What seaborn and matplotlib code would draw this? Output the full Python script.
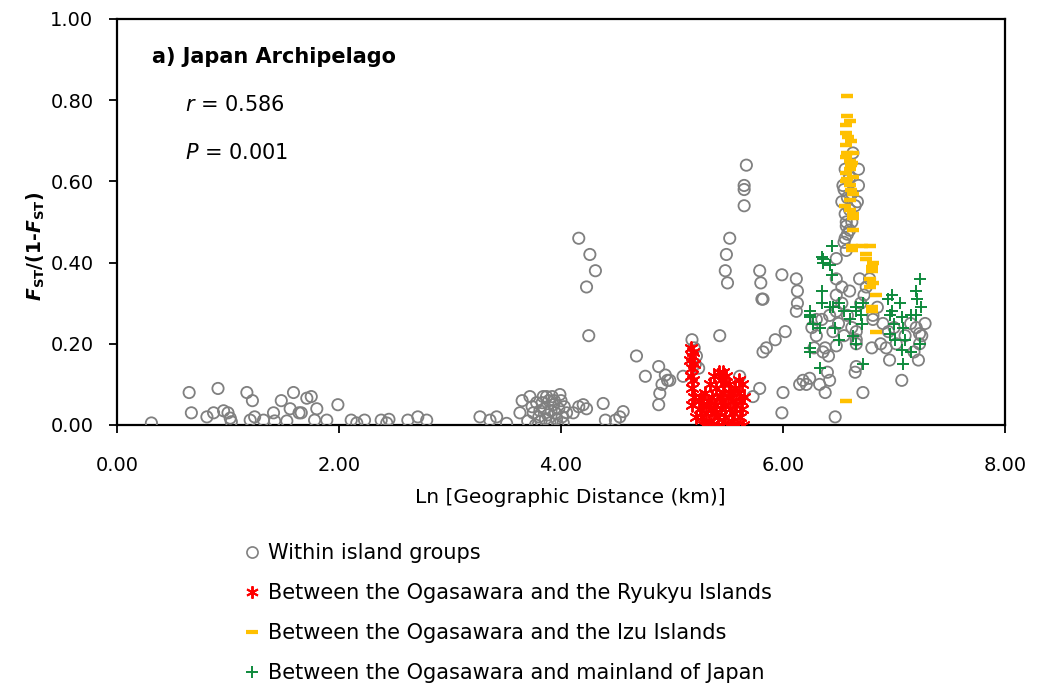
import matplotlib
matplotlib.use("Agg")
import matplotlib.pyplot as plt
from matplotlib.lines import Line2D
import seaborn as sns
import pandas as pd

# Ln geographic distance (km) vs. FST/(1-FST)
within_x = [0.31, 0.65, 0.67, 0.81, 0.87, 0.91, 0.96, 1.00, 1.02, 1.03, 1.17, 1.20, 1.22, 1.24,
            1.32, 1.41, 1.42, 1.48, 1.53, 1.56, 1.59, 1.64, 1.66, 1.71, 1.75, 1.78, 1.80, 1.89,
            1.99, 2.11, 2.16, 2.23, 2.38, 2.43, 2.45, 2.62, 2.71, 2.79,
            3.27, 3.36, 3.42, 3.51, 3.63, 3.65, 3.72, 3.75, 3.78, 3.80, 3.82, 3.84, 3.85, 3.87,
            3.88, 3.90, 3.92, 3.93, 3.95, 3.96, 3.98, 3.99, 4.00, 4.01, 4.02, 3.70, 3.74, 3.77,
            3.83, 3.86, 3.91, 3.94, 3.97, 4.03, 3.89, 3.81, 4.05, 4.11, 4.16, 4.20, 4.23, 4.38,
            4.40, 4.49, 4.53, 4.56,
            4.16, 4.26, 4.31, 4.23, 4.25, 4.68, 4.76, 4.88, 4.94, 4.96, 4.91, 4.89, 4.88, 4.98,
            5.10, 5.18, 5.20, 5.22, 5.21, 5.24,
            5.43, 5.52, 5.49, 5.48, 5.50, 5.61, 5.67, 5.65, 5.65, 5.65, 5.79, 5.73, 5.79, 5.80,
            5.81, 5.82, 5.82, 5.85, 5.93, 6.02, 5.99, 6.00, 5.99, 6.12, 6.13, 6.13, 6.12, 6.15,
            6.18, 6.24, 6.21, 6.33, 6.42, 6.38, 6.47,
            6.30, 6.38, 6.36, 6.41, 6.48, 6.48, 6.48, 6.53, 6.60, 6.48, 6.53, 6.48, 6.62, 6.69,
            6.78, 6.75, 6.81, 6.81, 6.66, 6.66, 6.66, 6.80, 6.93, 6.96, 7.07, 7.22, 7.28, 7.23,
            7.23, 6.66, 6.65, 6.72, 6.40, 6.45, 6.50, 6.55, 6.58, 6.70, 6.73, 6.85, 6.90, 6.95,
            7.00, 7.02, 7.10, 7.15, 7.20, 7.25, 7.18, 6.88, 6.28, 6.26, 6.35, 6.42, 6.30,
            6.56, 6.68, 6.54, 6.68, 6.53, 6.67, 6.56, 6.57, 6.57, 6.56, 6.63, 6.60, 6.62, 6.58,
            6.65, 6.60, 6.58, 6.55, 6.57, 6.62, 6.55, 6.60]
within_y = [0.005, 0.08, 0.03, 0.02, 0.03, 0.09, 0.035, 0.03, 0.017, 0.008, 0.08, 0.012, 0.06, 0.02,
            0.012, 0.03, 0.01, 0.06, 0.01, 0.04, 0.08, 0.03, 0.03, 0.066, 0.07, 0.012, 0.04, 0.012,
            0.05, 0.012, 0.005, 0.012, 0.012, 0.005, 0.014, 0.012, 0.02, 0.012,
            0.02, 0.012, 0.02, 0.004, 0.03, 0.06, 0.07, 0.03, 0.055, 0.02, 0.01, 0.07, 0.04, 0.07,
            0.025, 0.005, 0.07, 0.05, 0.03, 0.015, 0.04, 0.075, 0.06, 0.02, 0.005, 0.01, 0.045, 0.0,
            0.055, 0.015, 0.035, 0.06, 0.0, 0.045, 0.06, 0.035, 0.03, 0.03, 0.045, 0.05, 0.04, 0.053,
            0.012, 0.012, 0.02, 0.033,
            0.46, 0.42, 0.38, 0.34, 0.22, 0.17, 0.12, 0.144, 0.123, 0.11, 0.10, 0.078, 0.05, 0.11,
            0.12, 0.21, 0.19, 0.17, 0.15, 0.14,
            0.22, 0.46, 0.42, 0.38, 0.35, 0.12, 0.64, 0.59, 0.58, 0.54, 0.09, 0.07, 0.38, 0.35,
            0.31, 0.31, 0.18, 0.19, 0.21, 0.23, 0.37, 0.08, 0.03, 0.36, 0.33, 0.30, 0.28, 0.10,
            0.11, 0.115, 0.10, 0.10, 0.11, 0.08, 0.02,
            0.22, 0.19, 0.18, 0.17, 0.195, 0.41, 0.36, 0.34, 0.33, 0.32, 0.30, 0.28, 0.24, 0.36,
            0.36, 0.34, 0.27, 0.26, 0.23, 0.21, 0.20, 0.19, 0.19, 0.16, 0.11, 0.16, 0.25, 0.225,
            0.20, 0.144, 0.13, 0.08, 0.13, 0.23, 0.25, 0.22, 0.27, 0.30, 0.32, 0.29, 0.25, 0.23,
            0.24, 0.20, 0.22, 0.25, 0.24, 0.22, 0.18, 0.20, 0.19, 0.24, 0.26, 0.27, 0.26,
            0.63, 0.63, 0.59, 0.59, 0.55, 0.55, 0.52, 0.50, 0.49, 0.46, 0.67, 0.61, 0.57, 0.56,
            0.54, 0.53, 0.47, 0.45, 0.43, 0.50, 0.58, 0.48]

ryukyu_x = [5.17, 5.19, 5.18, 5.16, 5.20, 5.18, 5.17, 5.19, 5.18, 5.20, 5.18,
            5.25, 5.26, 5.27, 5.28, 5.29, 5.30, 5.31, 5.32, 5.33, 5.34, 5.35, 5.36, 5.37, 5.38,
            5.39, 5.40, 5.41, 5.42, 5.43, 5.44, 5.44, 5.45, 5.46, 5.46, 5.47, 5.48, 5.48, 5.49,
            5.50, 5.50, 5.51, 5.52, 5.53, 5.54, 5.55, 5.56, 5.57, 5.58, 5.59, 5.60, 5.61, 5.62,
            5.63, 5.64, 5.65, 5.63, 5.60, 5.30, 5.35, 5.41, 5.22, 5.24, 5.40, 5.45, 5.55, 5.38,
            5.33]
ryukyu_y = [0.19, 0.18, 0.17, 0.16, 0.15, 0.14, 0.12, 0.11, 0.09, 0.07, 0.05,
            0.04, 0.07, 0.02, 0.05, 0.0, 0.08, 0.03, 0.06, 0.01, 0.10, 0.04, 0.07, 0.0, 0.12,
            0.05, 0.09, 0.02, 0.13, 0.07, 0.11, 0.04, 0.0, 0.13, 0.08, 0.10, 0.05, 0.02, 0.12,
            0.07, 0.0, 0.10, 0.04, 0.08, 0.01, 0.06, 0.03, 0.09, 0.05, 0.0, 0.08, 0.02, 0.06,
            0.04, 0.0, 0.07, 0.10, 0.11, 0.0, 0.0, 0.0, 0.02, 0.06, 0.05, 0.06, 0.0, 0.03,
            0.05]

izu_x = [6.58, 6.58, 6.60, 6.57, 6.57, 6.61, 6.57, 6.63, 6.57, 6.60, 6.61, 6.60, 6.57, 6.63,
         6.57, 6.60, 6.61, 6.63, 6.56, 6.60, 6.63, 6.63, 6.63, 6.62, 6.78, 6.71, 6.62, 6.75,
         6.75, 6.81, 6.80, 6.80, 6.78, 6.81, 6.78, 6.84, 6.80, 6.80, 6.84, 6.57, 6.58, 6.60,
         6.59, 6.62, 6.58]
izu_y = [0.81, 0.76, 0.75, 0.74, 0.72, 0.70, 0.69, 0.67, 0.66, 0.65, 0.64, 0.63, 0.62, 0.61,
         0.60, 0.59, 0.58, 0.57, 0.54, 0.53, 0.52, 0.51, 0.48, 0.44, 0.44, 0.44, 0.43, 0.42,
         0.41, 0.40, 0.39, 0.38, 0.36, 0.35, 0.34, 0.32, 0.29, 0.28, 0.23, 0.06, 0.67, 0.555,
         0.71, 0.645, 0.605]

mainland_x = [6.44, 6.35, 6.36, 6.36, 6.42, 6.44, 6.35, 6.35, 6.42, 6.24, 6.24, 6.24, 6.27,
              6.33, 6.24, 6.24, 6.33, 6.66, 6.66, 6.72, 6.71, 6.66, 6.72, 6.98, 6.95, 6.98,
              6.96, 6.96, 7.01, 7.07, 7.08, 7.10, 7.07, 7.08, 7.23, 7.20, 7.21, 7.24, 7.20,
              7.23, 6.50, 6.55, 6.60, 6.63, 6.70, 7.00, 7.05, 7.15, 6.45, 6.50, 6.47, 7.15]
mainland_y = [0.44, 0.415, 0.41, 0.40, 0.394, 0.37, 0.33, 0.30, 0.29, 0.28, 0.27, 0.265, 0.25,
              0.24, 0.19, 0.18, 0.14, 0.29, 0.28, 0.30, 0.25, 0.20, 0.15, 0.32, 0.31, 0.28,
              0.27, 0.225, 0.21, 0.265, 0.24, 0.21, 0.185, 0.15, 0.36, 0.33, 0.31, 0.29, 0.27,
              0.20, 0.30, 0.28, 0.26, 0.22, 0.27, 0.25, 0.30, 0.27, 0.29, 0.21, 0.24, 0.18]

labels = ["Within island groups",
          "Between the Ogasawara and the Ryukyu Islands",
          "Between the Ogasawara and the Izu Islands",
          "Between the Ogasawara and mainland of Japan"]

GRAY = "#808080"
RED = "#FF0000"
GOLD = "#FFC000"
GREEN = "#0E8A3C"

sns.set_theme(style="white")
plt.rcParams["font.family"] = ["DejaVu Sans"]
plt.rcParams["text.color"] = "black"
plt.rcParams["axes.labelcolor"] = "black"
plt.rcParams["mathtext.fontset"] = "custom"
plt.rcParams["mathtext.rm"] = "DejaVu Sans"
plt.rcParams["mathtext.it"] = "DejaVu Sans:italic"
plt.rcParams["mathtext.bf"] = "DejaVu Sans:bold"
plt.rcParams["mathtext.bfit"] = "DejaVu Sans:italic:bold"

fig = plt.figure(figsize=(10.4, 6.9), dpi=100)
ax = fig.add_axes([117 / 1040, 1 - 425 / 690, 888 / 1040, 406 / 690])

df_w = pd.DataFrame({"x": within_x, "y": within_y})
df_r = pd.DataFrame({"x": ryukyu_x, "y": ryukyu_y})
df_i = pd.DataFrame({"x": izu_x, "y": izu_y})
df_m = pd.DataFrame({"x": mainland_x, "y": mainland_y})

sns.scatterplot(data=df_w, x="x", y="y", ax=ax, marker="o", s=66,
                facecolor="none", edgecolor=GRAY, linewidth=1.3, zorder=3)
sns.scatterplot(data=df_r, x="x", y="y", ax=ax, marker=(6, 2, 0), s=85,
                color=RED, edgecolor=RED, linewidth=1.4, zorder=4)
sns.scatterplot(data=df_i, x="x", y="y", ax=ax, marker="_", s=80,
                color=GOLD, edgecolor=GOLD, linewidth=3.2, zorder=5)
sns.scatterplot(data=df_m, x="x", y="y", ax=ax, marker="+", s=75,
                color=GREEN, edgecolor=GREEN, linewidth=1.4, zorder=6)

ax.set_xlim(0, 8)
ax.set_ylim(0, 1)
ax.set_xticks([0, 2, 4, 6, 8])
ax.set_yticks([0, 0.2, 0.4, 0.6, 0.8, 1.0])
ax.set_xticklabels([f"{v:.2f}" for v in [0, 2, 4, 6, 8]])
ax.set_yticklabels([f"{v:.2f}" for v in [0, 0.2, 0.4, 0.6, 0.8, 1.0]])
ax.tick_params(axis="both", which="major", direction="out", length=6, width=1.3,
               color="black", labelsize=14, labelcolor="black", bottom=True, left=True)
ax.tick_params(axis="x", pad=16)
ax.tick_params(axis="y", pad=11)
for sp in ax.spines.values():
    sp.set_visible(True)
    sp.set_color("black")
    sp.set_linewidth(1.6)

ax.set_xlabel("Ln [Geographic Distance (km)]", fontsize=14.5, color="black", labelpad=10)
ax.xaxis.label.set_x(0.511)
ax.set_ylabel(r"$\mathbfit{F}_{\mathbf{ST}}\mathbf{/(1}$-$\mathbfit{F}_{\mathbf{ST}}\mathbf{)}$",
              fontsize=13.5, fontweight="bold", color="black", labelpad=2)
ax.yaxis.label.set_y(0.44)

ax.text(0.039, 0.906, "a) Japan Archipelago", transform=ax.transAxes, fontsize=15,
        fontweight="bold", va="center", ha="left", color="black")
ax.text(0.077, 0.788, r"$\mathit{r}$ = 0.586", transform=ax.transAxes, fontsize=15,
        va="center", ha="left", color="black")
ax.text(0.077, 0.670, r"$\mathit{P}$ = 0.001", transform=ax.transAxes, fontsize=15,
        va="center", ha="left", color="black")

handles = [
    Line2D([], [], linestyle="none", marker="o", markersize=8, markerfacecolor="none",
           markeredgecolor=GRAY, markeredgewidth=1.2),
    Line2D([], [], linestyle="none", marker=(6, 2, 0), markersize=9, color=RED,
           markeredgewidth=1.4),
    Line2D([], [], linestyle="none", marker="_", markersize=9, color=GOLD,
           markeredgewidth=3.0),
    Line2D([], [], linestyle="none", marker="+", markersize=9, color=GREEN,
           markeredgewidth=1.4),
]
leg = fig.legend(handles, labels, loc="upper left", bbox_to_anchor=(244 / 1040, 1 - 543 / 690),
                 frameon=False, fontsize=15, handlelength=0.8, handletextpad=0.35,
                 labelspacing=0.96, borderaxespad=0, borderpad=0)
for t in leg.get_texts():
    t.set_color("black")

fig.savefig("out.png", dpi=100)
